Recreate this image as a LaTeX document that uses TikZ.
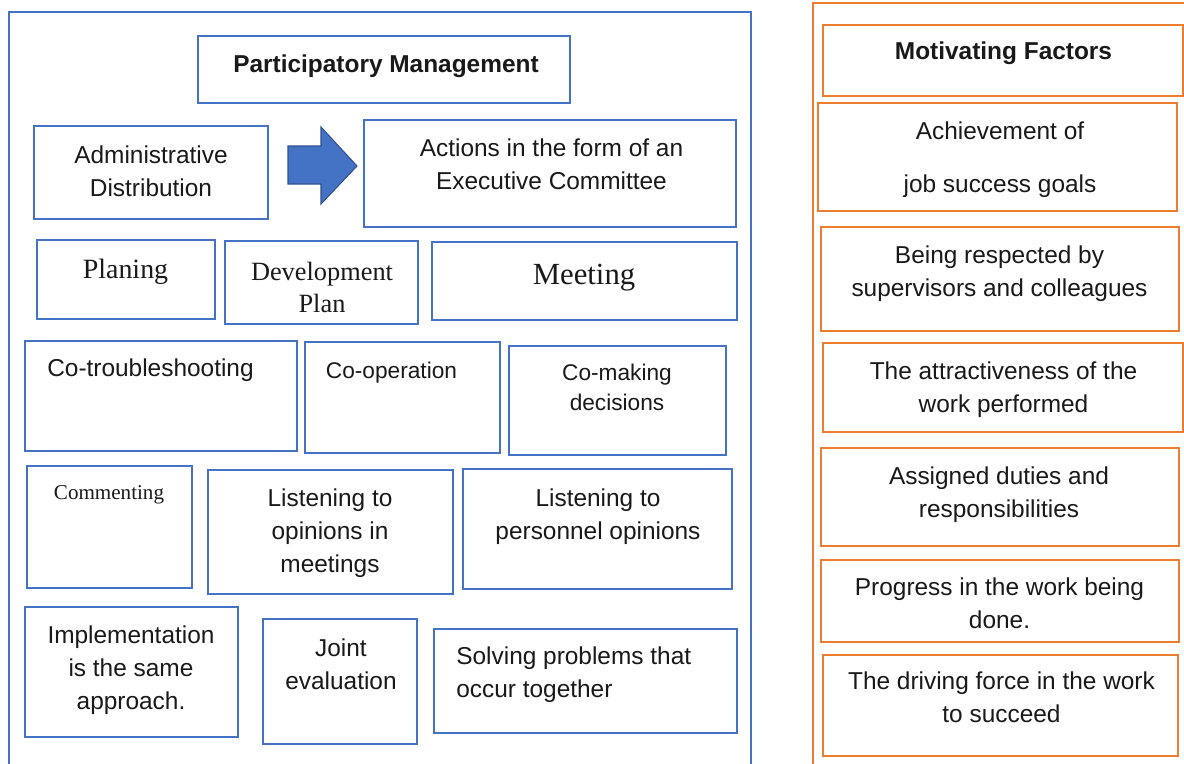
\documentclass[tikz,border=0pt]{standalone}
\usepackage{fontspec}
\setmainfont{Liberation Sans}
\newfontfamily\timesfont{Liberation Serif}
\usetikzlibrary{fit}

\definecolor{pmblue}{HTML}{4472C4}
\definecolor{mforange}{HTML}{ED7D31}
\definecolor{arrowedge}{HTML}{2F528F}

\tikzset{
	pmbox/.style={draw=pmblue, line width=1.6pt, inner sep=0pt},
	mfbox/.style={draw=mforange, line width=1.4pt, inner sep=0pt},
	frame/.style={line width=1.1pt},
	boxtext/.style={align=center, inner sep=0pt, text=black!90, font=\fontsize{13.9}{18.7}\selectfont},
	smalltext/.style={boxtext, font=\fontsize{12.9}{17.4}\selectfont},
	headtext/.style={boxtext, font=\fontsize{13.9}{18.7}\selectfont\bfseries},
	serif/.style={align=center, inner sep=0pt, text=black!90, font=\timesfont\fontsize{#1}{18.7}\selectfont}
}

\begin{document}
\begin{tikzpicture}[x=0.02cm, y=-0.02cm]
		\useasboundingbox (0,0) rectangle (1184,764);
		\clip (0,0) rectangle (1184,764);
		\fill[white] (0,0) rectangle (1184,764);

		% outer frames
		\draw[frame, pmblue] (9,12) rectangle (751,790);
		\draw[frame, mforange] (813,3) rectangle (1200,790);

		% participatory management side
		\node[pmbox, fit={(198,36) (570,103)}] (pm) {};
		\node[headtext] (pm-t) at (386,66.5) {Participatory Management};

		\node[pmbox, fit={(34,126) (268,219)}] (admin) {};
		\node[boxtext] (admin-t) at (151,171.5) {Administrative\\Distribution};
		\node[pmbox, fit={(364,120) (736,227)}] (actions) {};
		\node[boxtext] (actions-t) at (551.5,164.5) {Actions in the form of an\\Executive Committee};
		\draw[fill=pmblue, draw=arrowedge, line width=0.6pt, line join=miter]
			(288,146) -- (321,146) -- (321,127) -- (357,166) -- (321,204) -- (321,184) -- (288,184) -- cycle;

		\node[pmbox, fit={(37,240) (215,319)}] (plan) {};
		\node[serif=15.9] (plan-t) at (125.5,271.5) {Planing};
		\node[pmbox, fit={(225,241) (418,324)}] (devplan) {};
		\node[serif=15] (devplan-t) at (322,287.5) {Development\\Plan};
		\node[pmbox, fit={(432,242) (737,320)}] (meet) {};
		\node[serif=17.5] (meet-t) at (584,278) {Meeting};

		\node[pmbox, fit={(25,341) (297,451)}] (cotrouble) {};
		\node[boxtext] (cotrouble-t) at (150.5,370.5) {Co-troubleshooting};
		\node[pmbox, fit={(305,342) (500,453)}] (coop) {};
		\node[smalltext] (coop-t) at (391.5,372.5) {Co-operation};
		\node[pmbox, fit={(509,346) (726,455)}] (comake) {};
		\node[smalltext] (comake-t) at (617,387.5) {Co-making\\decisions};

		\node[pmbox, fit={(27,466) (192,588)}] (comment) {};
		\node[serif=12] (comment-t) at (109,495) {Commenting};
		\node[pmbox, fit={(208,470) (453,594)}] (listenmeet) {};
		\node[boxtext] (listenmeet-t) at (330,533.5) {Listening to\\opinions in\\meetings};
		\node[pmbox, fit={(463,469) (732,589)}] (listenpers) {};
		\node[boxtext] (listenpers-t) at (598,516.5) {Listening to\\personnel opinions};

		\node[pmbox, fit={(25,607) (238,737)}] (implement) {};
		\node[boxtext] (implement-t) at (131,670) {Implementation\\is the same\\approach.};
		\node[pmbox, fit={(263,619) (417,744)}] (joint) {};
		\node[boxtext] (joint-t) at (341,664.5) {Joint\\evaluation};
		\node[pmbox, fit={(434,629) (737,733)}] (solve) {};
		\node[boxtext, align=left, anchor=west] (solve-t) at (456,675) {Solving problems that\\occur together};

		% motivating factors side
		\node[mfbox, fit={(823,25) (1183,96)}] (mf) {};
		\node[headtext] (mf-t) at (1003.5,53) {Motivating Factors};
		\node[mfbox, fit={(818,103) (1177,211)}] (achieve) {};
		\node[boxtext] (achieve-t) at (1000,160) {Achievement of\\[0.4cm]job success goals};
		\node[mfbox, fit={(821,227) (1179,331)}] (respect) {};
		\node[boxtext] (respect-t) at (999.5,273.5) {Being respected by\\supervisors and colleagues};
		\node[mfbox, fit={(823,343) (1183,432)}] (attract) {};
		\node[boxtext] (attract-t) at (1003.5,390) {The attractiveness of the\\work performed};
		\node[mfbox, fit={(821,448) (1179,546)}] (assign) {};
		\node[boxtext] (assign-t) at (999,494.5) {Assigned duties and\\responsibilities};
		\node[mfbox, fit={(821,560) (1179,642)}] (progress) {};
		\node[boxtext] (progress-t) at (999.5,603) {Progress in the work being\\done.};
		\node[mfbox, fit={(823,655) (1178,756)}] (drive) {};
		\node[boxtext] (drive-t) at (1001.5,697.5) {The driving force in the work\\to succeed};
	\end{tikzpicture}
\end{document}
